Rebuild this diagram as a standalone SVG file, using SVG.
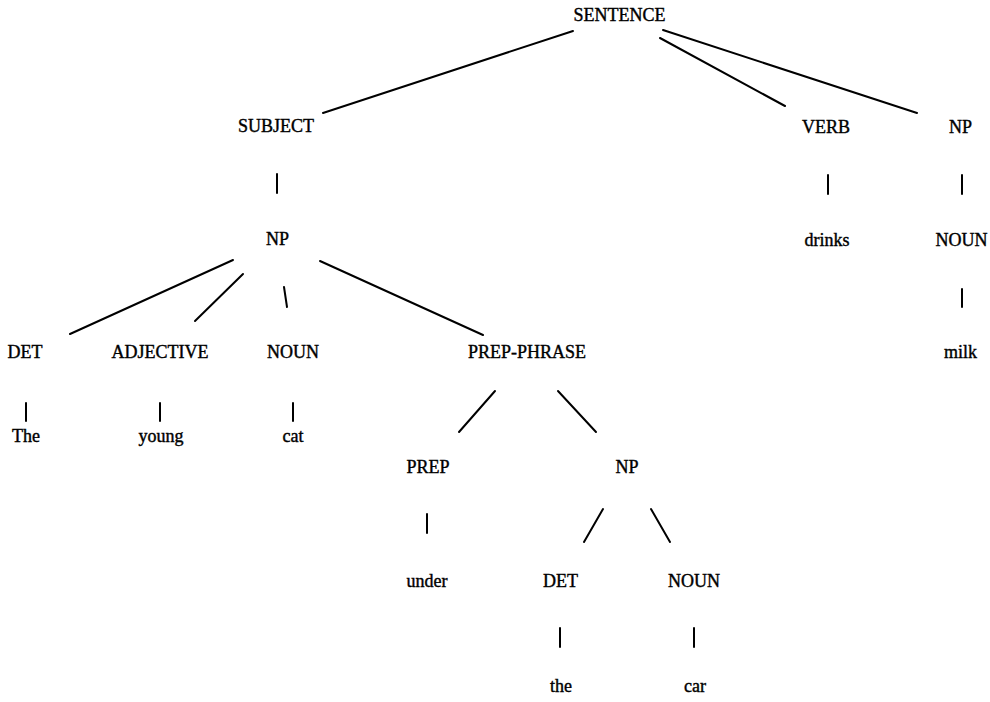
<svg xmlns="http://www.w3.org/2000/svg" width="990" height="702" viewBox="0 0 990 702">
  <style>
    .lbl { font-size: 18px; fill: #000; stroke: #000; stroke-width: 0.4; text-anchor: middle; }
    .edge { stroke: #000; stroke-width: 2; stroke-linecap: round; fill: none; }
  </style>
  <rect width="990" height="702" fill="#fff"/>

  <!-- tree branches -->
  <g id="connectors">
    <line class="edge" x1="573" y1="31" x2="323" y2="113"/>
    <line class="edge" x1="660" y1="38" x2="785" y2="106"/>
    <line class="edge" x1="663" y1="30" x2="917" y2="113"/>
    <line class="edge" x1="277" y1="174" x2="277" y2="193"/>
    <line class="edge" x1="828" y1="175" x2="828" y2="194"/>
    <line class="edge" x1="962" y1="175" x2="962" y2="194"/>
    <line class="edge" x1="962" y1="289" x2="962" y2="307"/>
    <line class="edge" x1="233" y1="260" x2="70" y2="334"/>
    <line class="edge" x1="243" y1="274" x2="195" y2="321"/>
    <line class="edge" x1="284" y1="287" x2="287" y2="307"/>
    <line class="edge" x1="320" y1="261" x2="483" y2="335"/>
    <line class="edge" x1="26" y1="403" x2="26" y2="421"/>
    <line class="edge" x1="160" y1="403" x2="160" y2="421"/>
    <line class="edge" x1="293" y1="403" x2="293" y2="421"/>
    <line class="edge" x1="495" y1="391" x2="459" y2="432"/>
    <line class="edge" x1="558" y1="391" x2="596" y2="432"/>
    <line class="edge" x1="427" y1="514" x2="427" y2="533"/>
    <line class="edge" x1="603" y1="509" x2="584" y2="542"/>
    <line class="edge" x1="651" y1="509" x2="670" y2="542"/>
    <line class="edge" x1="560" y1="628" x2="560" y2="647"/>
    <line class="edge" x1="694" y1="628" x2="694" y2="647"/>
  </g>

  <!-- tree nodes -->
  <g font-family="'Liberation Serif', 'DejaVu Serif', serif">
    <g id="n-sentence"><text class="lbl" x="619.5" y="21">SENTENCE</text></g>
    <g id="n-subject"><text class="lbl" x="276" y="132">SUBJECT</text></g>
    <g id="n-verb"><text class="lbl" x="826" y="133">VERB</text></g>
    <g id="n-np-obj"><text class="lbl" x="960.5" y="133">NP</text></g>
    <g id="n-drinks"><text class="lbl" x="827" y="246">drinks</text></g>
    <g id="n-noun-obj"><text class="lbl" x="961.5" y="246">NOUN</text></g>
    <g id="n-milk"><text class="lbl" x="960.5" y="358">milk</text></g>
    <g id="n-np-subj"><text class="lbl" x="277.5" y="245">NP</text></g>
    <g id="n-det-subj"><text class="lbl" x="25" y="358">DET</text></g>
    <g id="n-adjective"><text class="lbl" x="160" y="358">ADJECTIVE</text></g>
    <g id="n-noun-subj"><text class="lbl" x="293" y="358">NOUN</text></g>
    <g id="n-prep-phrase"><text class="lbl" x="527" y="358">PREP-PHRASE</text></g>
    <g id="n-the-cap"><text class="lbl" x="26" y="442">The</text></g>
    <g id="n-young"><text class="lbl" x="161" y="442">young</text></g>
    <g id="n-cat"><text class="lbl" x="293" y="442">cat</text></g>
    <g id="n-prep"><text class="lbl" x="428" y="473">PREP</text></g>
    <g id="n-np-pp"><text class="lbl" x="627" y="473">NP</text></g>
    <g id="n-under"><text class="lbl" x="427" y="587">under</text></g>
    <g id="n-det-pp"><text class="lbl" x="560.5" y="587">DET</text></g>
    <g id="n-noun-pp"><text class="lbl" x="694" y="587">NOUN</text></g>
    <g id="n-the"><text class="lbl" x="561" y="692">the</text></g>
    <g id="n-car"><text class="lbl" x="695" y="692">car</text></g>
  </g>
</svg>
